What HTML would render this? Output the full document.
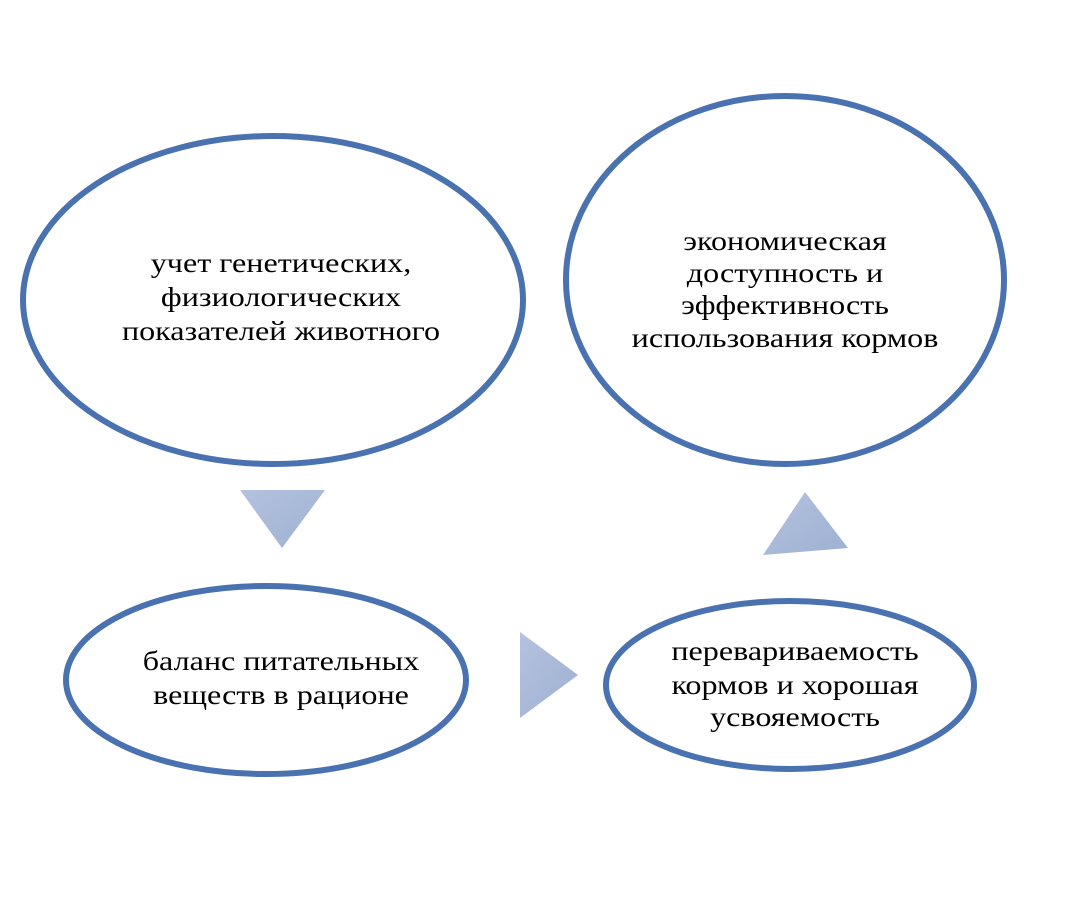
<!DOCTYPE html>
<html><head><meta charset="utf-8"><style>
html,body{margin:0;padding:0;background:#fff;}
svg{display:block;}
text{font-family:"Liberation Serif","DejaVu Serif",serif;font-size:27px;fill:#000;text-anchor:middle;}
</style></head><body>
<svg width="1069" height="923" viewBox="0 0 1069 923" xmlns="http://www.w3.org/2000/svg">
<defs>
<linearGradient id="g" x1="0" y1="0" x2="1" y2="1">
<stop offset="0" stop-color="#b4c2de"/><stop offset="1" stop-color="#9eb0d2"/>
</linearGradient>
</defs>
<g fill="#fff" stroke="#4a72b0" stroke-width="6">
<ellipse cx="273" cy="300" rx="250" ry="164"/>
<ellipse cx="785" cy="280" rx="219" ry="184"/>
<ellipse cx="266" cy="680" rx="200" ry="94"/>
<ellipse cx="790" cy="685" rx="184" ry="84"/>
</g>
<g fill="url(#g)">
<polygon points="240,490 325,490 282,548"/>
<polygon points="520,632 520,718 578,675"/>
<polygon points="805,492 763,555 848,548"/>
</g>
<g transform="translate(281,0) scale(1.19,1)">
<text x="0" y="272">учет генетических,</text>
<text x="0" y="306">физиологических</text>
<text x="0" y="340">показателей животного</text>
</g>
<g transform="translate(785,0) scale(1.19,1)">
<text x="0" y="250">экономическая</text>
<text x="0" y="282">доступность и</text>
<text x="0" y="314">эффективность</text>
<text x="0" y="347">использования кормов</text>
</g>
<g transform="translate(281,0) scale(1.19,1)">
<text x="0" y="670">баланс питательных</text>
<text x="0" y="704">веществ в рационе</text>
</g>
<g transform="translate(795,0) scale(1.19,1)">
<text x="0" y="660">перевариваемость</text>
<text x="0" y="694">кормов и хорошая</text>
<text x="0" y="726">усвояемость</text>
</g>
</svg>
</body></html>
